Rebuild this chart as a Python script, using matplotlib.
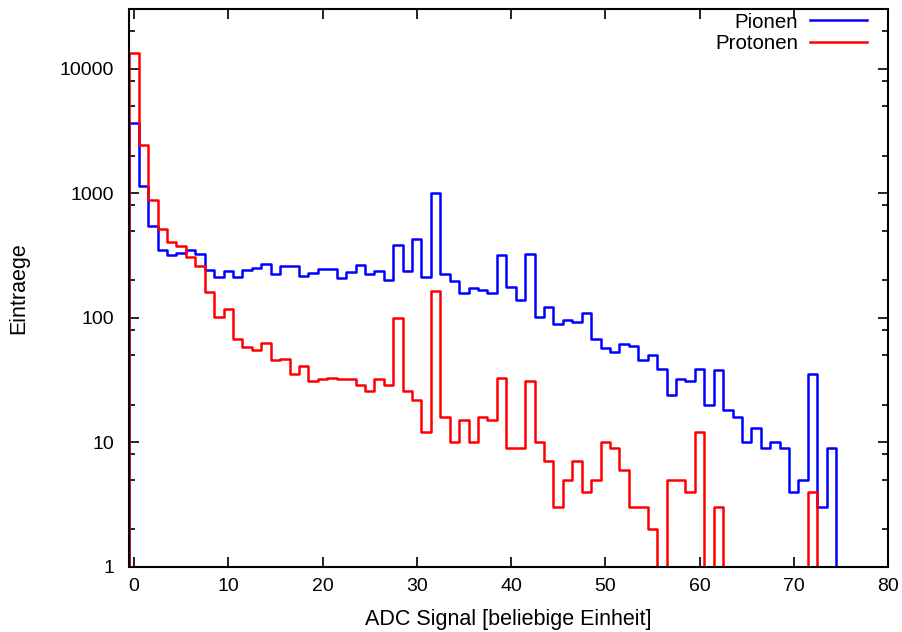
import matplotlib
matplotlib.use('Agg')
import matplotlib.pyplot as plt
from matplotlib.ticker import FixedLocator, NullFormatter
import numpy as np

# ADC channels (bin centres) and counts per channel
channels = np.arange(0, 81)

pionen = [3670, 1140, 550, 351, 318, 328, 347, 326, 243, 212,
          238, 213, 240, 252, 270, 225, 258, 262, 215, 228,
          245, 247, 208, 231, 264, 225, 238, 199, 382, 237,
          431, 212, 1003, 225, 197, 157, 173, 166, 158, 316,
          176, 139, 326, 101, 121, 89, 95, 92, 110, 67,
          57, 53, 62, 59, 46, 50, 39, 24, 32, 31,
          39, 20, 38, 18, 16, 10, 13, 9, 10, 9,
          4, 5, 35, 3, 9, 0, 0, 0, 0, 0, 0]

protonen = [13400, 2450, 887, 515, 402, 378, 308, 258, 162, 102,
            117, 67, 58, 55, 63, 46, 47, 35, 41, 31,
            32, 33, 32, 32, 29, 26, 32, 29, 100, 26,
            22, 12, 165, 16, 10, 15, 10, 16, 15, 33,
            9, 9, 31, 10, 7, 3, 5, 7, 4, 5,
            10, 9, 6, 3, 3, 2, 0, 5, 5, 4,
            12, 0, 3, 0, 0, 0, 0, 0, 0, 0,
            0, 0, 4, 0, 0, 0, 0, 0, 0, 0, 0]

labels = ['Pionen', 'Protonen']
colors = ['#0000ff', '#ff0000']

plt.rcParams['font.family'] = ['Liberation Sans', 'DejaVu Sans']
plt.rcParams['font.size'] = 14

fig = plt.figure(figsize=(9.03, 6.32), dpi=100)
ax = fig.add_axes([0.1432, 0.1033, 0.8402, 0.882])

# pad with an empty bin on the left so the step starts from zero
x = np.concatenate([[channels[0] - 1], channels])
for vals, lab, col in zip([pionen, protonen], labels, colors):
    y = np.concatenate([[0], np.asarray(vals, dtype=float)])
    ax.step(x, y, where='mid', color=col, lw=1.8, label=lab)

ax.set_yscale('log')
ax.set_xlim(-0.5, 80)
ax.set_ylim(1, 30000)

ax.xaxis.set_major_locator(FixedLocator(np.arange(0, 81, 10)))
ax.set_yticks([1, 10, 100, 1000, 10000])
ax.set_yticklabels(['1', '10', '100', '1000', '10000'])
minor = [m * 10 ** e for e in range(0, 5) for m in (2, 5, 8)]
ax.yaxis.set_minor_locator(FixedLocator(minor))
ax.yaxis.set_minor_formatter(NullFormatter())
ax.xaxis.set_minor_locator(FixedLocator([]))

ax.tick_params(axis='both', which='major', direction='in', length=7, width=1.2,
               top=True, right=True, colors='black')
ax.tick_params(axis='y', which='minor', direction='in', length=4, width=1.2,
               left=True, right=True)
ax.tick_params(axis='y', which='major', pad=11)
ax.tick_params(axis='x', which='major', pad=8)

for s in ax.spines.values():
    s.set_linewidth(1.5)
    s.set_color('black')

ax.set_xlabel('ADC Signal [beliebige Einheit]', fontsize=15.5, labelpad=10)
ax.set_ylabel('Eintraege', fontsize=15.5, labelpad=22)

ax.legend(loc='upper right', bbox_to_anchor=(0.9723, 0.994), frameon=False,
          markerfirst=False, fontsize=14.8,
          handlelength=2.75, handletextpad=0.6, labelspacing=0.12,
          borderaxespad=0.0, borderpad=0.0)

plt.savefig('out.png', dpi=100)
